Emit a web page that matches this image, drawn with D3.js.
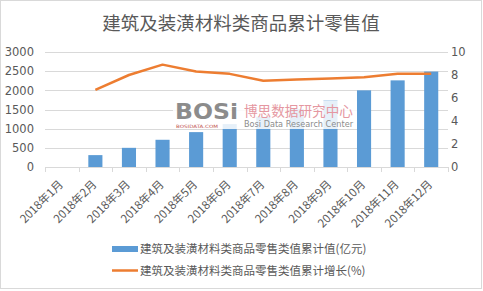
<!DOCTYPE html>
<html>
<head>
<meta charset="utf-8">
<script src="https://cdn.jsdelivr.net/npm/d3@7"></script>
<style>
  body { margin: 0; background: #fff; }
  svg { display: block; font-family: "Noto Sans CJK SC", "DejaVu Sans", sans-serif; }
</style>
</head>
<body>
<svg id="chart" width="483" height="291"></svg>
<script>
const months = ['2018年1月', '2018年2月', '2018年3月', '2018年4月', '2018年5月', '2018年6月',
  '2018年7月', '2018年8月', '2018年9月', '2018年10月', '2018年11月', '2018年12月'];
// cumulative value (亿元), January not reported
const values = [null, 310, 500, 710, 910, 1120, 1310, 1510, 1730, 2000, 2260, 2490];
// cumulative growth (%)
const growth = [null, 6.7, 8.0, 8.9, 8.3, 8.1, 7.5, 7.6, 7.7, 7.8, 8.1, 8.1];
const leftTicks = [0, 500, 1000, 1500, 2000, 2500, 3000];
const rightTicks = [0, 2, 4, 6, 8, 10];
const title = '建筑及装潢材料类商品累计零售值';
const seriesNames = ['建筑及装潢材料类商品零售类值累计值(亿元)', '建筑及装潢材料类商品零售类值累计增长(%)'];

const svg = d3.select('#chart');
const plot = { left: 45, right: 448, top: 52, bottom: 167 };
const grey = '#595959';

// chart border
svg.append('rect')
  .attr('x', 0.5).attr('y', 0.5).attr('width', 481).attr('height', 288)
  .attr('fill', '#fff').attr('stroke', '#d9d9d9');

svg.append('text')
  .attr('x', 241).attr('y', 30)
  .attr('text-anchor', 'middle')
  .attr('font-size', 18.5)
  .attr('fill', grey)
  .text(title);

const x = d3.scaleBand().domain(months).range([plot.left, plot.right]).paddingInner(0.58).paddingOuter(0.29);
const xBand = d3.scaleBand().domain(months).range([plot.left, plot.right]);
const yL = d3.scaleLinear().domain([0, 3000]).range([plot.bottom, plot.top]);
const yR = d3.scaleLinear().domain([0, 10]).range([plot.bottom, plot.top]);

// gridlines
svg.append('g')
  .selectAll('line')
  .data(leftTicks.slice(1))
  .join('line')
  .attr('x1', plot.left).attr('x2', plot.right)
  .attr('y1', d => Math.round(yL(d)) + 0.5).attr('y2', d => Math.round(yL(d)) + 0.5)
  .attr('stroke', '#d9d9d9');

// left axis
const leftAxis = svg.append('g')
  .attr('transform', `translate(${plot.left - 11},0)`)
  .call(d3.axisLeft(yL).tickValues(leftTicks).tickFormat(d3.format('d')).tickSize(0).tickPadding(0));
leftAxis.select('.domain').remove();
leftAxis.selectAll('text').attr('font-size', 11.5).attr('fill', grey).attr('font-family', '"DejaVu Sans", sans-serif');

// right axis
const rightAxis = svg.append('g')
  .attr('transform', `translate(${plot.right + 3},0)`)
  .call(d3.axisRight(yR).tickValues(rightTicks).tickSize(0).tickPadding(0));
rightAxis.select('.domain').remove();
rightAxis.selectAll('text').attr('font-size', 11.5).attr('fill', grey).attr('font-family', '"DejaVu Sans", sans-serif');

// bars
svg.append('g')
  .selectAll('rect')
  .data(months.map((m, i) => ({ m, v: values[i] })).filter(d => d.v != null))
  .join('rect')
  .attr('x', d => x(d.m))
  .attr('width', x.bandwidth())
  .attr('y', d => yL(d.v))
  .attr('height', d => yL(0) - yL(d.v))
  .attr('fill', '#5b9bd5');

// watermark
const wm = svg.append('g');
wm.append('rect')
  .attr('x', 173).attr('y', 101).attr('width', 184).attr('height', 28)
  .attr('fill', '#fff').attr('opacity', 0.85);
wm.append('text')
  .attr('x', 175).attr('y', 119)
  .attr('font-size', 22).attr('font-weight', 'bold')
  .attr('font-family', '"DejaVu Sans", sans-serif')
  .attr('textLength', 63).attr('lengthAdjust', 'spacingAndGlyphs')
  .attr('fill', '#8c8c8c')
  .text('BOSi');
wm.append('text')
  .attr('x', 176).attr('y', 128)
  .attr('font-size', 4.5).attr('fill', '#c0504d')
  .attr('font-family', '"DejaVu Sans", sans-serif')
  .attr('textLength', 42).attr('lengthAdjust', 'spacingAndGlyphs')
  .text('BOSIDATA.COM');
wm.append('text')
  .attr('x', 244).attr('y', 116)
  .attr('font-size', 13.5).attr('fill', '#e597a1')
  .attr('textLength', 109).attr('lengthAdjust', 'spacingAndGlyphs')
  .text('博思数据研究中心');
wm.append('text')
  .attr('x', 244).attr('y', 127)
  .attr('font-size', 8).attr('fill', '#8c8c8c')
  .attr('font-family', '"DejaVu Sans", sans-serif')
  .attr('textLength', 109).attr('lengthAdjust', 'spacingAndGlyphs')
  .text('Bosi Data Research Center');

// growth line
const line = d3.line()
  .defined(d => d.v != null)
  .x(d => xBand(d.m) + xBand.bandwidth() / 2)
  .y(d => yR(d.v));
svg.append('path')
  .datum(months.map((m, i) => ({ m, v: growth[i] })))
  .attr('d', line)
  .attr('fill', 'none')
  .attr('stroke', '#ed7d31')
  .attr('stroke-width', 2.5)
  .attr('stroke-linejoin', 'round');

// bottom axis
svg.append('line')
  .attr('x1', plot.left).attr('x2', plot.right)
  .attr('y1', plot.bottom + 0.5).attr('y2', plot.bottom + 0.5)
  .attr('stroke', '#d9d9d9');
svg.append('g')
  .selectAll('line')
  .data(months.concat(['end']))
  .join('line')
  .attr('x1', (d, i) => Math.round(plot.left + i * xBand.bandwidth()) + 0.5)
  .attr('x2', (d, i) => Math.round(plot.left + i * xBand.bandwidth()) + 0.5)
  .attr('y1', plot.bottom).attr('y2', plot.bottom + 5)
  .attr('stroke', '#d9d9d9');

svg.append('g')
  .selectAll('text')
  .data(months)
  .join('text')
  .attr('transform', d => `translate(${xBand(d) + xBand.bandwidth() / 2 + 2},${plot.bottom + 18}) rotate(-45)`)
  .attr('text-anchor', 'end')
  .attr('font-size', 11.5)
  .attr('fill', grey)
  .text(d => d);

// legend
const legend = svg.append('g');
legend.append('rect')
  .attr('x', 112).attr('y', 246).attr('width', 26).attr('height', 6)
  .attr('fill', '#5b9bd5');
legend.append('line')
  .attr('x1', 112).attr('x2', 138).attr('y1', 270.5).attr('y2', 270.5)
  .attr('stroke', '#ed7d31').attr('stroke-width', 2.5);
legend.selectAll('text.lg')
  .data(seriesNames)
  .join('text')
  .attr('class', 'lg')
  .attr('x', 140)
  .attr('y', (d, i) => 253 + i * 22)
  .attr('font-size', 11.5)
  .attr('fill', grey)
  .text(d => d);
</script>
</body>
</html>
